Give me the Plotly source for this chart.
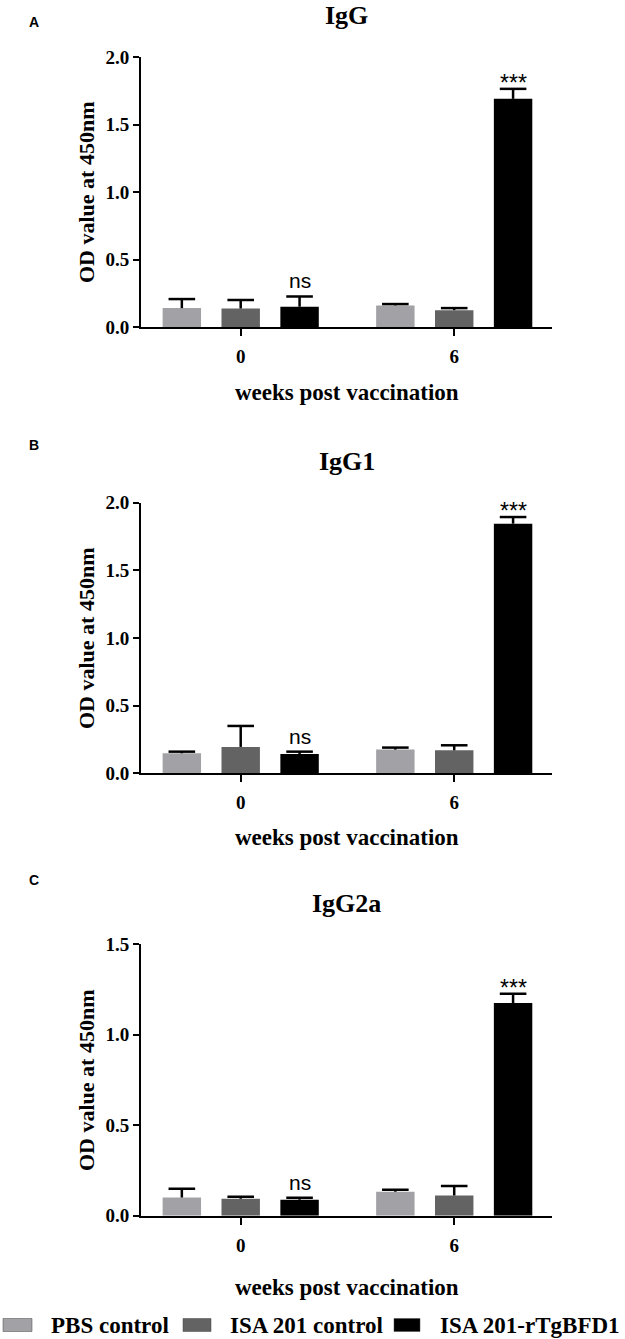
import plotly.graph_objects as go

# ------------------------
# Data
# ------------------------
weeks = ["0", "6"]
groups = ["PBS control", "ISA 201 control", "ISA 201-rTgBFD1"]
colors = ["#a2a2a6", "#636363", "#000000"]

panels = ["IgG", "IgG1", "IgG2a"]
panel_tags = ["A", "B", "C"]
y_max = [2.0, 2.0, 1.5]

# mean OD per group (week 0, week 6) and upper SD
igg_mean = [[0.14, 0.16], [0.137, 0.125], [0.15, 1.69]]
igg_err = [[0.067, 0.01], [0.063, 0.015], [0.076, 0.074]]

igg1_mean = [[0.148, 0.175], [0.195, 0.17], [0.143, 1.845]]
igg1_err = [[0.012, 0.015], [0.155, 0.037], [0.017, 0.049]]

igg2a_mean = [[0.101, 0.133], [0.094, 0.112], [0.088, 1.176]]
igg2a_err = [[0.048, 0.011], [0.011, 0.052], [0.011, 0.051]]

means = [igg_mean, igg1_mean, igg2a_mean]
errs = [igg_err, igg1_err, igg2a_err]
sig_labels = ["ns", "***"]

# ------------------------
# Layout constants (pixels of a 625x1339 page)
# ------------------------
W, H = 625, 1339
SLOT = 0.2757      # distance between bars in a group (group spacing = 1)
BAR_W = 0.18
x_dom = [141 / W, 552 / W]
plot_px = [(57, 327), (502.7, 773.3), (944.3, 1215.7)]   # top/bottom of plot areas
title_px = [15, 461.7, 903]
tag_px = [22, 445, 880]
xtitle_px = [393, 837, 1287]
legend_px = [(3, 32, 49), (183, 211, 228), (394, 420, 438)]  # swatch x0, x1, text x
legend_y = 1325

serif = "Liberation Serif"
fig = go.Figure()

for k in range(3):
    xa = "x" if k == 0 else f"x{k+1}"
    ya = "y" if k == 0 else f"y{k+1}"
    for i, name in enumerate(groups):
        xs = [g + (i - 1) * SLOT for g in range(len(weeks))]
        vals = means[k][i]
        ev = errs[k][i]
        fig.add_trace(go.Bar(
            x=xs, y=vals, width=BAR_W, name=name,
            marker=dict(color=colors[i], line_width=0),
            showlegend=False, xaxis=xa, yaxis=ya
        ))
        # error bar stems (upper only)
        fig.add_trace(go.Scatter(
            x=xs, y=vals, mode="markers",
            marker=dict(size=1, color="rgba(0,0,0,0)"),
            error_y=dict(type="data", array=ev, arrayminus=[0] * len(ev),
                         symmetric=False, width=0, thickness=2.5, color="black"),
            showlegend=False, hoverinfo="skip", xaxis=xa, yaxis=ya
        ))
        # error bar caps
        fig.add_trace(go.Scatter(
            x=xs, y=[v + e for v, e in zip(vals, ev)], mode="markers",
            marker=dict(symbol="line-ew", size=19, line=dict(width=2.5, color="black")),
            showlegend=False, hoverinfo="skip", xaxis=xa, yaxis=ya
        ))

    # significance marks over the vaccinated group
    top = [m + e for m, e in zip(means[k][2], errs[k][2])]
    fig.add_annotation(x=0 + SLOT, y=top[0], xref=xa, yref=ya, text=sig_labels[0],
                       showarrow=False, xanchor="center", yanchor="bottom", yshift=2,
                       font=dict(family="Liberation Sans", size=21, color="black"))
    fig.add_annotation(x=1 + SLOT, y=top[1], xref=xa, yref=ya, text=sig_labels[1],
                       showarrow=False, xanchor="center", yanchor="bottom", yshift=-9,
                       font=dict(family="Liberation Sans", size=23, color="black"))

    top_px, bot_px = plot_px[k]
    fig.update_layout(**{
        ("xaxis" if k == 0 else f"xaxis{k+1}"): dict(
            domain=x_dom, range=[-0.467, 1.458], anchor=ya,
            tickvals=[0, 1], ticktext=weeks,
            showline=True, linewidth=2, linecolor="black",
            ticks="outside", ticklen=7, tickwidth=2, tickcolor="black",
            ticklabelstandoff=4,
            tickfont=dict(family=serif, size=19, color="black", weight="bold"),
            showgrid=False, zeroline=False
        ),
        ("yaxis" if k == 0 else f"yaxis{k+1}"): dict(
            domain=[1 - bot_px / H, 1 - top_px / H], range=[0, y_max[k]], anchor=xa,
            dtick=0.5, tickformat=".1f",
            showline=True, linewidth=2, linecolor="black",
            ticks="outside", ticklen=6, tickwidth=2, tickcolor="black",
            tickfont=dict(family=serif, size=19, color="black", weight="bold"),
            showgrid=False, zeroline=False
        ),
    })

    mid_y = 1 - (top_px + bot_px) / 2 / H
    cx = (x_dom[0] + x_dom[1]) / 2
    # y-axis title
    fig.add_annotation(x=86 / W, y=mid_y, xref="paper", yref="paper",
                       xanchor="center", yanchor="middle",
                       text="<b>OD value at 450nm</b>", textangle=-90, showarrow=False,
                       font=dict(family=serif, size=22, color="black"))
    # x-axis title
    fig.add_annotation(x=cx, y=1 - xtitle_px[k] / H, xref="paper", yref="paper",
                       xanchor="center", yanchor="middle",
                       text="<b>weeks post vaccination</b>", showarrow=False,
                       font=dict(family=serif, size=23, color="black"))
    # panel title
    fig.add_annotation(x=cx, y=1 - title_px[k] / H, xref="paper", yref="paper",
                       xanchor="center", yanchor="middle",
                       text=f"<b>{panels[k]}</b>", showarrow=False,
                       font=dict(family=serif, size=26, color="black"))
    # panel tag
    fig.add_annotation(x=34 / W, y=1 - tag_px[k] / H, xref="paper", yref="paper",
                       xanchor="center", yanchor="middle",
                       text=f"<b>{panel_tags[k]}</b>", showarrow=False,
                       font=dict(family="Liberation Sans", size=14, color="black"))

# legend drawn as swatches + labels along the bottom
for i, name in enumerate(groups):
    x0, x1, tx = legend_px[i]
    fig.add_shape(type="rect", xref="paper", yref="paper",
                  x0=x0 / W, x1=x1 / W, y0=1 - (legend_y + 6.5) / H, y1=1 - (legend_y - 6.5) / H,
                  fillcolor=colors[i], line=dict(color="#444444", width=0.5))
    fig.add_annotation(x=tx / W, y=1 - legend_y / H, xref="paper", yref="paper",
                       xanchor="left", yanchor="middle", text=f"<b>{name}</b>",
                       showarrow=False, font=dict(family=serif, size=23, color="black"))

fig.update_layout(
    width=W, height=H,
    margin=dict(l=0, r=0, t=0, b=0, autoexpand=False),
    plot_bgcolor="white", paper_bgcolor="white",
    showlegend=False,
)

# drop the browser's default page margin so the figure fills the window
fig.write_html("out.html", config={"displayModeBar": False},
               post_script="document.body.style.margin='0';")
